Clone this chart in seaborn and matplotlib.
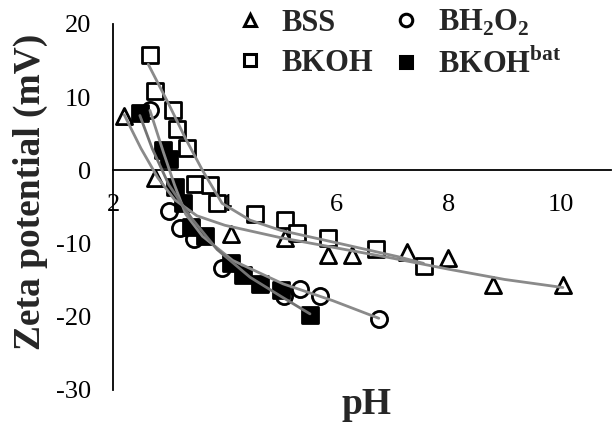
# Zeta potential vs pH, four bentonite samples
import pandas as pd
import seaborn as sns
import matplotlib.pyplot as plt
from matplotlib.lines import Line2D

bss_ph = [2.2, 2.75, 4.1, 5.07, 5.84, 6.27, 7.25, 7.98, 8.8, 10.04]
bss_z = [7.5, -1.1, -8.7, -9.2, -11.6, -11.6, -11.1, -12.0, -15.7, -15.7]

bkoh_ph = [2.66, 2.75, 3.07, 3.14, 3.32, 3.46, 3.73, 3.85, 4.54, 5.07, 5.28, 5.85, 6.7, 7.55]
bkoh_z = [15.7, 10.9, 8.2, 5.7, 3.1, -1.8, -2.0, -4.4, -5.9, -6.8, -8.5, -9.2, -10.8, -13.0]

bh2o2_ph = [2.66, 3.0, 3.2, 3.45, 3.95, 5.05, 5.35, 5.7, 6.75]
bh2o2_z = [8.2, -5.5, -7.9, -9.4, -13.4, -17.1, -16.2, -17.2, -20.3]

bat_ph = [2.48, 2.9, 3.0, 3.1, 3.25, 3.4, 3.65, 4.1, 4.32, 4.62, 5.0, 5.52]
bat_z = [7.8, 2.8, 1.5, -2.3, -4.5, -7.8, -8.9, -12.7, -14.3, -15.5, -16.3, -19.8]

# gray trend curves, also
bss_fit_ph = [2.2, 2.5, 2.8, 3.1, 3.5, 4.0, 5.0, 6.0, 7.0, 8.0, 9.0, 10.04]
bss_fit_z = [7.6, 3.0, -1.0, -4.0, -6.2, -7.5, -9.2, -10.6, -12.0, -13.5, -14.9, -16.0]

bkoh_fit_ph = [2.63, 3.0, 3.3, 3.6, 3.95, 4.45, 5.0, 6.0, 7.1, 7.55]
bkoh_fit_z = [14.5, 9.0, 4.3, 0.0, -4.5, -6.8, -8.2, -9.9, -11.8, -12.7]

bh2o2_fit_ph = [2.66, 2.9, 3.1, 3.3, 3.6, 4.14, 5.04, 5.93, 6.75]
bh2o2_fit_z = [8.2, 2.5, -2.0, -6.0, -9.0, -12.3, -15.5, -17.8, -20.2]

bat_fit_ph = [2.48, 2.7, 3.0, 3.4, 3.86, 4.45, 5.0, 5.52]
bat_fit_z = [7.5, 3.0, -2.0, -6.5, -10.8, -14.6, -17.2, -19.6]

labels = ['BSS', 'BKOH', r'BH$_\mathregular{2}$O$_\mathregular{2}$', r'BKOH$^\mathregular{bat}$']

sns.set_theme(style='white')
plt.rcParams['font.family'] = ['Liberation Serif', 'DejaVu Serif']
plt.rcParams['mathtext.fontset'] = 'custom'
plt.rcParams['mathtext.rm'] = 'Liberation Serif:bold'
plt.rcParams['axes.unicode_minus'] = False

fig = plt.figure(figsize=(6.14, 4.22), dpi=100)
ax = fig.add_axes([113 / 614, 32 / 422, 498 / 614, 366 / 422])

series = [
    (bss_ph, bss_z, bss_fit_ph, bss_fit_z, '^', 'white', '#8a8a8a'),
    (bkoh_ph, bkoh_z, bkoh_fit_ph, bkoh_fit_z, 's', 'white', '#8a8a8a'),
    (bh2o2_ph, bh2o2_z, bh2o2_fit_ph, bh2o2_fit_z, 'o', 'white', '#8a8a8a'),
    (bat_ph, bat_z, bat_fit_ph, bat_fit_z, 's', 'black', '#737373'),
]

for ph, z, fph, fz, mk, face, lc in series:
    df = pd.DataFrame({'pH': ph, 'zeta': z})
    sns.scatterplot(data=df, x='pH', y='zeta', marker=mk, s=135, color=face,
                    edgecolor='black', linewidth=2.0, ax=ax, zorder=3)

for ph, z, fph, fz, mk, face, lc in series:
    fit = pd.DataFrame({'pH': fph, 'zeta': fz})
    sns.lineplot(data=fit, x='pH', y='zeta', color=lc, lw=2.0, ax=ax, zorder=4,
                 sort=False)

ax.set_xlim(2, 10.9)
ax.set_ylim(-30, 20)
ax.set_xticks([2, 4, 6, 8, 10])
ax.set_yticks([-30, -20, -10, 0, 10, 20])
ax.spines['top'].set_visible(False)
ax.spines['right'].set_visible(False)
ax.spines['bottom'].set_position(('data', 0))
for sp in ['left', 'bottom']:
    ax.spines[sp].set_color('black')
    ax.spines[sp].set_linewidth(1.3)
ax.tick_params(axis='both', direction='out', length=6, width=1.3, colors='black',
               labelsize=19, pad=10)
ax.tick_params(axis='x', pad=11)

ax.set_xlabel('pH', fontsize=27, fontweight='bold')
ax.set_ylabel('Zeta potential (mV)', fontsize=27, fontweight='bold')
ax.xaxis.label.set_va('baseline')
ax.xaxis.set_label_coords(0.51, -0.066)
ax.yaxis.set_label_coords(-0.13, 0.54)

handles = []
for ph, z, fph, fz, mk, face, lc in series:
    handles.append(Line2D([], [], ls='none', marker=mk, markersize=9,
                          markerfacecolor=face, markeredgecolor='black', markeredgewidth=2.2))
ax.legend(handles, labels, ncol=2, frameon=False, loc='upper left',
          bbox_to_anchor=(236 / 614, 1 - 8 / 422), bbox_transform=fig.transFigure,
          prop={'family': 'Liberation Serif', 'weight': 'bold', 'size': 22},
          handlelength=0.9, handletextpad=0.6, columnspacing=0.6,
          labelspacing=0.35, borderpad=0, borderaxespad=0)

fig.savefig('out.png', dpi=100)
